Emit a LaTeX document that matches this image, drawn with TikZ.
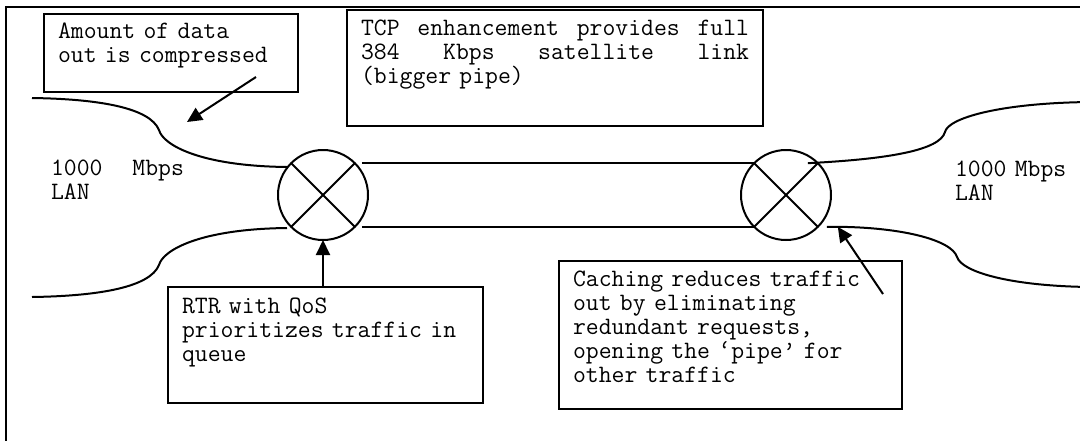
\documentclass[tikz,border=0pt]{standalone}
\usepackage{fontspec}
\usetikzlibrary{arrows.meta}

\newcommand{\notefont}{\ttfamily\fontsize{25}{24}\selectfont}

\tikzset{
  note/.style={draw, anchor=north west, align=left, outer sep=0pt,
    inner xsep=14pt, inner ysep=0pt, font=\notefont},
  lan/.style={anchor=base west, align=left, inner sep=0pt, font=\notefont},
  router/.style={draw, circle, minimum size=90pt, inner sep=0pt, outer sep=0pt},
  pointer/.style={-{Triangle[length=15pt,width=14pt]}},
}

\begin{document}
\begin{tikzpicture}[x=1pt, y=-1pt, line width=2pt]
  \useasboundingbox (0,0) rectangle (1080,440);
  % frame
  \draw[line width=2.5pt] (6,460) -- (6,7) -- (1100,7);

  % routers
  \node[router] (rtrL) at (323,195) {};
  \node[router] (rtrR) at (786,195) {};
  \draw (rtrL.north west) -- (rtrL.south east);
  \draw (rtrL.north east) -- (rtrL.south west);
  \draw (rtrR.north west) -- (rtrR.south east);
  \draw (rtrR.north east) -- (rtrR.south west);

  % satellite pipe
  \draw ([xshift=7pt]rtrL.north east) -- (rtrR.north west);
  \draw ([xshift=7pt]rtrL.south east) -- (rtrR.south west);

  % LAN edges
  \draw (32,98) .. controls (100,99) and (150,108) .. (159,130)
    .. controls (163,145) and (200,166) .. (287,167);
  \draw (287,228) .. controls (200,229) and (163,250) .. (159,265)
    .. controls (150,287) and (100,296) .. (32,297);
  \draw ([xshift=-10pt]rtrR.north east) .. controls (890,159) and (940,150) .. (945,132)
    .. controls (948,118) and (1000,103) .. (1090,102);
  \draw ([xshift=9pt]rtrR.south east) .. controls (900,226) and (952,240) .. (957,257)
    .. controls (962,272) and (1010,286) .. (1090,287);

  \node[lan, text width=133pt] (lanL) at (50,175) {1000\hfill Mbps\\LAN};
  \node[lan, text width=130pt] (lanR) at (954,176) {1000 Mbps\\LAN};

  % notes
  \node[note, text width=226pt, text height=24pt, text depth=54pt] (amt) at (44,14)
    {Amount of data\\out is compressed};
  \node[note, text width=388pt, text height=25pt, text depth=91pt] (tcp) at (347,10)
    {TCP\hfill enhancement\hfill provides\hfill full\\
     384\hfill Kbps\hfill satellite\hfill link\\
     (bigger pipe)};
  \node[note, text width=287pt, text height=26pt, text depth=90pt] (qos) at (168,287)
    {RTR with QoS\\prioritizes traffic in\\queue};
  \node[note, text width=315pt, text height=25pt, text depth=123pt] (cache) at (559,261)
    {Caching reduces traffic\\out by eliminating\\redundant requests,\\
     opening the ‘pipe’ for\\other traffic};

  % arrows
  \coordinate (cmp) at (187,122);
  \draw[pointer] ([shift={(-42,-15)}]amt.south east) -- (cmp);
  \draw[pointer] (rtrL.south |- qos.north) -- (rtrL.south);
  \draw[pointer] ([shift={(-19,33)}]cache.north east) -- ([xshift=20pt]rtrR.south east);
\end{tikzpicture}
\end{document}
